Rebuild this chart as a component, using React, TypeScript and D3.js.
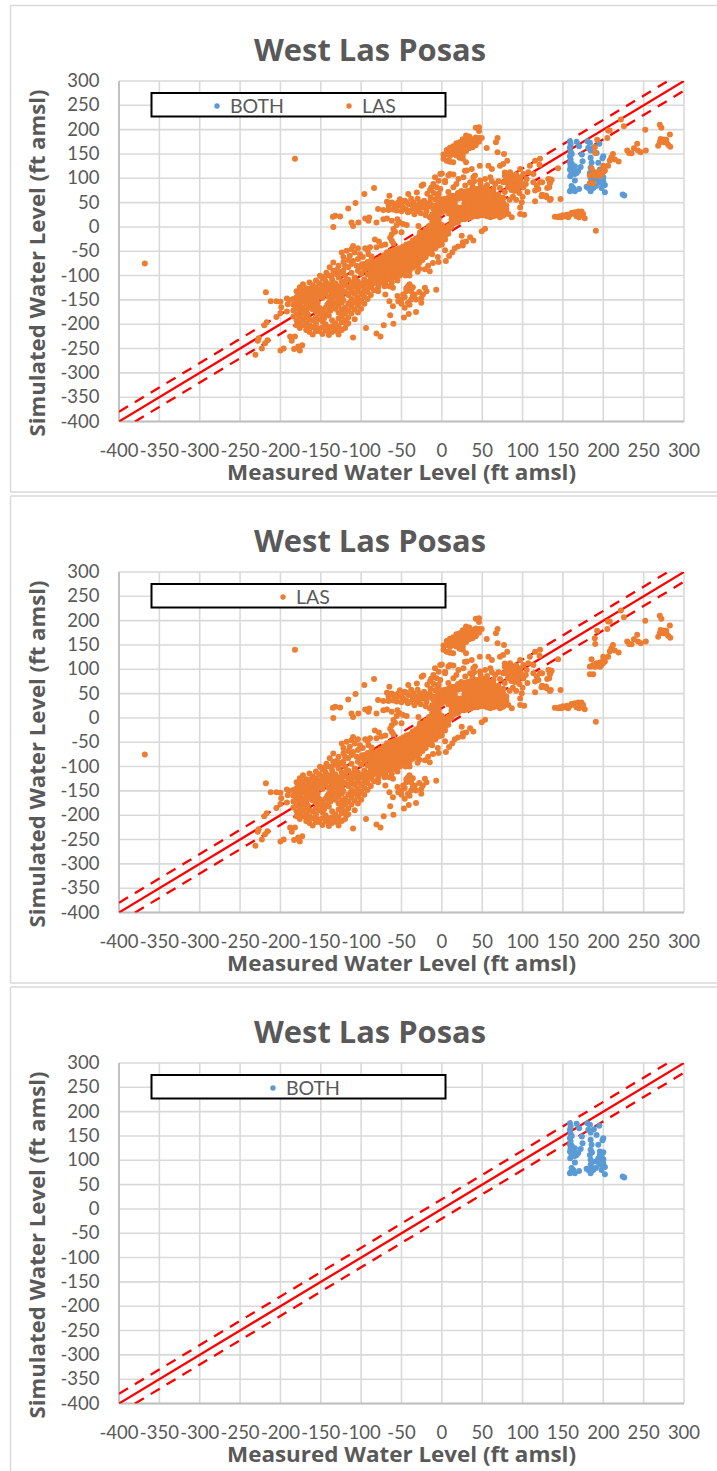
import React from "react";
import * as d3 from "d3";

type P = [number, number];
type Col = [number, number[]];

const titleText = "West Las Posas";
const xAxisTitle = "Measured Water Level (ft amsl)";
const yAxisTitle = "Simulated Water Level (ft amsl)";
const tickValues = d3.range(-400, 301, 50);

const refOffsets = [20, -20];

const lasLowerTail: P[] = [[-218,-134.5],[-212,-153],[-205,-153],[-200,-154],[-192,-147],[-189,-150],[-191,-159],[-199,-165],[-192,-174],[-200,-177],[-205,-185],[-217,-196],[-220,-202],[-227,-229],[-228,-234],[-216,-233],[-219,-239],[-223,-250],[-231,-263],[-200,-254],[-196,-250],[-188,-225],[-182,-225],[-186,-234],[-183,-251],[-176,-254],[-173,-243],[-178,-246],[-368,-75],[-182,140],[-110,-227.5],[-94,-207.6]];

const lasBlobColumns: Col[] = [
  [-184,[-148,-160,-172,-184]],
  [-180,[-132,-144,-156,-168,-180,-192,-202]],
  [-176,[-124,-136,-148,-160,-172,-184,-196,-208]],
  [-172,[-118,-130,-142,-154,-166,-178,-190,-202]],
  [-168,[-126,-138,-150,-162,-174,-186,-198,-212]],
  [-164,[-114,-130,-142,-154,-166,-190,-202,-216]],
  [-160,[-120,-134,-146,-158,-170,-192,-206,-221]],
  [-156,[-110,-124,-138,-150,-162,-174,-186,-198,-214]],
  [-152,[-116,-128,-142,-166,-178,-190,-214]],
  [-148,[-106,-120,-134,-146,-170,-182,-194,-206,-220]],
  [-144,[-112,-126,-138,-166,-178,-200,-212]],
  [-140,[-100,-118,-130,-144,-156,-168,-182,-206,-222]],
  [-136,[-108,-124,-136,-150,-162,-192,-204,-216]],
  [-132,[-96,-116,-130,-142,-156,-168,-198,-210]],
  [-128,[-104,-122,-136,-148,-162,-176,-188,-204,-221]],
  [-124,[-92,-112,-128,-142,-156,-170,-184,-196,-212]],
  [-120,[-100,-118,-134,-166,-178,-192,-208]],
  [-116,[-108,-124,-140,-158,-172,-186,-198]],
  [-112,[-94,-114,-130,-148,-164,-178]],
  [-108,[-104,-122,-138,-156,-170,-190]],
  [-104,[-90,-112,-130,-146,-162,-176]],
  [-100,[-82,-96,-120,-138,-152,-168]],
  [-96,[-76,-88,-108,-128,-144,-158]],
  [-92,[-72,-84,-98,-116,-134,-148]],
  [-88,[-70,-80,-92,-104,-124,-140]],
];

const lasBlobInfill: P[] = [[-178,-166],[-178,-142],[-174,-172],[-174,-150],[-170,-144],[-170,-168],[-166,-156],[-166,-180],[-162,-150],[-162,-126],[-158,-140],[-158,-164],[-154,-156],[-154,-132],[-150,-140],[-150,-176],[-146,-128],[-146,-188],[-142,-160],[-142,-120],[-138,-172],[-134,-144],[-134,-118],[-130,-156],[-130,-126],[-126,-134],[-126,-176],[-122,-150],[-122,-120],[-118,-108],[-118,-172],[-114,-136],[-114,-156],[-110,-122],[-110,-150],[-106,-134],[-106,-112],[-102,-122],[-102,-155],[-98,-136],[-98,-116],[-94,-124],[-90,-112],[-86,-118],[-166,-206],[-154,-208],[-142,-214],[-130,-214],[-118,-200]];

const lasBandColumns: Col[] = [
  [-84,[-72,-80,-88,-96,-104,-112,-130]],
  [-80,[-68,-76,-84,-92,-100,-108,-116]],
  [-76,[-64,-72,-80,-88,-96,-104,-112]],
  [-72,[-58,-66,-74,-82,-90,-98,-106,-114]],
  [-68,[-52,-60,-68,-76,-84,-92,-100,-108]],
  [-64,[-50,-58,-66,-74,-82,-90,-98,-106]],
  [-60,[-48,-56,-64,-72,-80,-88,-96,-104]],
  [-56,[-46,-54,-62,-70,-78,-86,-94,-102]],
  [-52,[-44,-52,-60,-68,-76,-84,-92,-100]],
  [-48,[-40,-48,-56,-64,-72,-80,-88,-96]],
  [-44,[-36,-44,-52,-60,-68,-76,-84,-92]],
  [-40,[-34,-42,-50,-58,-66,-74,-82,-90]],
  [-36,[-28,-36,-44,-52,-60,-68,-76,-84]],
  [-32,[-24,-32,-40,-48,-56,-64,-72,-80]],
  [-28,[-18,-26,-34,-42,-50,-58,-66,-74]],
  [-24,[-12,-20,-28,-36,-44,-52,-60,-68]],
  [-20,[-6,-14,-22,-30,-38,-46,-54,-62]],
  [-16,[2,-6,-14,-22,-30,-38,-46,-54]],
  [-12,[26,18,10,2,-6,-14,-22,-30,-38,-46,-56]],
  [-8,[44,36,28,20,12,4,-4,-12,-20,-28,-36,-44]],
  [-4,[50,42,34,26,18,10,2,-6,-14,-22,-30,-38]],
  [0,[54,46,38,30,4,-4,-12,-20,-28,-36]],
  [4,[58,50,42,34,-2,-10,-18,-26]],
  [8,[60,52,44,36,28,2,-6,-14]],
  [12,[64,56,48,40,32,24,16,8,0]],
  [16,[64,56,48,40,32,24,16,8]],
  [20,[66,58,40,32,24,16,10]],
  [24,[68,60,40,32,24,16]],
  [28,[72,64,56,48,40,32,24,16]],
  [32,[74,66,58,50,42,34,26,18]],
  [36,[76,68,60,52,44,36,28,20]],
  [40,[78,70,62,54,46,38,30,22]],
  [44,[78,70,62,54,46,38,30,22]],
  [48,[80,72,64,56,48,40,32,24]],
  [52,[80,72,64,56,48,40,32,24]],
  [56,[78,70,62,54,46,38,30,22]],
  [60,[74,66,58,50,42,34,26,20]],
  [64,[70,62,54,46,38,30,22]],
  [68,[62,54,46,38,30,24]],
  [72,[58,50,42,34,26]],
  [76,[50,42,34,26]],
  [80,[44,36,28]],
];

const lasLeftFringe: P[] = [[-84,80],[-96,67.5],[-107,49],[-116,38],[-132,23],[-135,21],[-126,21.6],[-134.5,0],[-112,9],[-110,2],[-103.5,9],[-95,17.5],[-90,19.5],[-91,12.7],[-81,9],[-72.5,16],[-68,17.5],[-79,36.7],[-72.5,35],[-65,64],[-41.6,67.5],[-31,71],[-25,84.7],[-13,81],[-2,109],[10,109],[28.6,115.6],[-8.5,102],[4,95],[-62,50],[-54,50],[-46,54],[-35,50],[-27,50],[-66,43.5],[-58,40],[-48,40],[-39.5,33],[-31,33],[-23,40],[-15,50],[-8.5,57],[-0.3,57],[-19,33],[-10.5,36.7],[-60,47],[-52,43.5],[-41.6,47],[-62,12.7],[-52,9],[-43.6,3.8],[-60,-4.5],[-62,-15],[-62,-28.5],[-50,-11],[-27,-11],[-29,2],[-83,-26],[-95,-43.6],[-89,-42],[-110,-39],[-118,-49],[-124,-52.5],[-108,-52.5],[-114,-59],[-101.4,-56],[-91,-56],[-110,-70],[-134.5,-73],[-139,-83],[-128,-80],[-120,-80],[-143,-94],[-134.5,-90],[-126,-94],[-116,-83],[-105.6,-80],[-151,-100.5],[-136.5,-100.5],[-81,-42],[-87,-61],[-99,-76.5],[-57,46],[-50,48],[-44,51],[-38,46],[-32,44],[-26,45],[-20,46],[-12,44],[-5,62],[-64,48],[-44,36],[-36,38],[-28,38],[-16,42],[-122,-62],[-116,-68],[-104,-66],[-98,-62],[-112,-46],[-104,-44],[-122,-72],[-130,-88],[-122,-90],[-112,-76],[-145,-102],[-55,16],[-48,6],[-56,4],[-58,-10],[-64,-22],[-60,-34],[-75,-38],[-70,-36],[-78,-30],[-92,-48],[-56,34],[-50,32],[-42,30],[-34,26],[-26,28],[-20,24],[-15,20],[-60,36],[-66,35],[-68,52],[-30,58],[-22,54],[-14,60],[-38,58],[-52,57],[-10,70],[-18,68]];

const lasUnderBand: P[] = [[-40,-118],[-44,-132],[-50,-149],[-38,-132],[-33.7,-139],[-54,-153],[-60.6,-163],[-65,-153],[-46,-166],[-47,-186],[-41,-179],[-32,-175],[-25.5,-156],[-21,-125],[-19,-132],[-25.5,-146],[-23.5,-139],[-7,-129],[-64,-181.5],[-60,-199],[-72,-202],[-81,-219],[-76,-225],[-38,-149],[-42,-122],[-48,-139],[-32,-149],[-40,-160],[-70,-139],[-71,-122],[-79,-125],[-79,-132],[-65,-122],[-60.6,-125],[-21,-87],[-15,-91],[-17,-80],[-11,-74],[5,-70],[13,-52],[-5,-62],[4,-48],[20,-40],[-55,-110],[-62,-114],[-45,-100],[-28,-86],[-44,-126],[-36,-124],[-46,-144],[-42,-156],[-36,-142],[-28,-134],[-50,-158],[-55,-142],[-30,-92],[-40,-100],[9,-60],[16,-44],[26,-38],[30,-30],[-4,-72],[-70,-116],[-78,-118]];

const lasUpperClusterColumns: Col[] = [
  [2,[149,140]],
  [6,[158,150,136]],
  [10,[163,154,146,134]],
  [14,[166,158,150,133]],
  [18,[172,164,156,147]],
  [22,[174,166,158,150,142]],
  [26,[180,172,164,156,148,140]],
  [30,[188,180,172,164,156,133]],
  [34,[186,178,170,162]],
  [38,[180,172,164]],
  [42,[204,184,176,168]],
  [46,[205,197,183,175]],
  [49.4,[183]],
];

const lasRightOfBand: P[] = [[69,183],[67,174],[55.6,162.5],[69,153.6],[77,150],[81,136],[72,126],[76,129.6],[47,126],[57.7,126],[62,119],[41,105.6],[31,116],[37,119],[97,119],[109,126],[115.5,136],[121.7,140],[107,112.5],[113.4,109],[84.5,112.5],[88.6,105.6],[78,105.6],[97,102],[101,109],[93,92],[80.4,92],[86.6,85],[97,85],[105,98.7],[101,81.6],[113.4,92],[121.7,92],[132,98.7],[136,96.7],[117.6,85],[134,90],[115.5,74.7],[119.6,78],[126,64.4],[130,61],[124,66],[115.5,53],[135,57.6],[147,57.6],[99,50.7],[97,40],[97,26.7],[102,25],[82.4,26.7],[86.6,20],[72,20],[76,23],[53.5,-4],[49.4,-9],[35,-21],[39,-28],[24.6,-18],[26,-31.6],[-23,87],[-14.6,76],[-10.5,88],[-4,95],[0,110],[8,105.6],[14.3,107.6],[-6.4,81.6],[4,92],[14.3,81.6],[26.7,102],[20.5,98.7],[39,102],[60,102],[53.5,98.7],[47.3,95.3],[35,92],[29,85],[84,100],[90,96],[82,82],[90,74],[96,70],[106,72],[88,62],[78,72],[72,80],[66,88],[56,86],[48,88],[24,74],[8,72],[-4,68],[78,112],[84,106],[92,108],[88,96],[94,100],[80,98],[76,92],[82,90],[92,84],[98,92],[104,88],[86,76],[94,78],[70,94],[62,94],[100,62],[92,56],[84,56],[76,60],[70,66],[64,78],[40,94],[18,88],[-2,78],[20,70],[38,84]];

const lasFarRight: P[] = [[221.8,221],[225.5,207],[206,198],[208,198],[192.4,179],[205,183],[189.5,164],[190,152],[212,150],[210,143],[208,136.5],[214.3,138.5],[219,134.4],[206,126],[199.9,126],[185.4,120.7],[199.9,119],[195.7,114],[191.6,112.5],[187.5,109],[183.4,105.6],[197.8,109],[193.7,109],[183.4,89.8],[187.5,89.8],[144,120.7],[135,97.4],[133.8,92],[124.3,92],[133,81.6],[130.5,80],[123.5,63],[129,64.4],[133.8,55.5],[121,127.6],[229.6,157],[232,152],[235,151.6],[238,162],[242,170.8],[243,157],[246.5,153.6],[252.7,157],[252,199.6],[270,210],[272,203.7],[282.5,190],[271,181],[275,179.7],[268,167],[278,174],[280.4,168.7],[283,165],[275,174],[278,179],[270,174],[140,21],[144,20],[148,20],[152.4,22],[156.5,20],[160.6,28.8],[164.8,30],[169,31.5],[173,31.5],[175,26.7],[166.8,22],[170,20],[177,18],[190.8,-7.6],[146,22],[150,24],[155,25],[158,24],[163,27],[168,28],[172,26],[192,108],[196,105],[186,106],[190,105],[202,116],[200,113]];

const bothColumnA: P[] = [[158.7,176],[159.5,169.5],[158.7,163],[159.5,154.5],[158.7,145.5],[159.5,138.7],[158.7,132],[159.5,125],[158.7,118],[160.7,111],[164.8,109],[169,115],[172,123],[174.3,135],[173.5,149],[167,175],[170,166],[164.8,125],[162.8,118],[158.7,73.5],[162.8,80],[164.8,95.5],[160.7,84],[164.8,73.5],[170,78],[159.5,75],[161,150],[161,130],[161,112],[163,110],[167,111],[159,104]];
const bothColumnB: P[] = [[180.5,176],[183.4,173],[181.4,163],[188.4,164],[184.3,157],[191.7,152],[200,145.5],[199,141],[193.8,132],[184.3,142],[185.5,132],[184.3,121.5],[183.4,111],[184.3,101],[184.3,90.6],[181.4,80],[179.3,82.4],[184.3,73.5],[187.6,80],[195.8,118],[200,116.7],[195.8,111],[193.8,104],[197.9,101],[200,94],[195.8,90.6],[202,86],[197.9,80],[202,71.4],[190.9,97.5],[190.9,84],[195,171],[186,116],[186,96],[186,84],[198,108],[194,96],[200,102]];
const bothIsolated: P[] = [[224,66.6],[226,64.6]];

const flatten = (cols: Col[]): P[] => cols.flatMap(([x, ys]) => ys.map((y) => [x, y] as P));

const lasSeries: P[] = [...lasLowerTail, ...flatten(lasBlobColumns), ...lasBlobInfill, ...flatten(lasBandColumns), ...lasLeftFringe, ...lasUnderBand, ...flatten(lasUpperClusterColumns), ...lasRightOfBand, ...lasFarRight];
const bothSeries: P[] = [...bothColumnA, ...bothColumnB, ...bothIsolated];

const BLUE = "#5B9BD5";
const ORANGE = "#ED7D31";
const GREY = "#595959";
const FONT = "Lato, 'Open Sans', sans-serif";
const HEAD = "'Open Sans', Lato, sans-serif";

const xScale = d3.scaleLinear().domain([-400, 300]).range([119, 684]);

type LegendItem = { label: string; color: string; mx: number };

function Panel({ top, frameBottom, frameTop, series, legend }: {
  top: number; frameTop: number; frameBottom: number;
  series: { data: P[]; color: string }[]; legend: LegendItem[];
}) {
  const yScale = d3.scaleLinear().domain([-400, 300]).range([top + 340.5, top]);
  const clipId = `clip-${top}`;
  const refLine = d3.line<number>().x((v) => xScale(v)).y((v) => yScale(v));
  const refOff = (o: number) => d3.line<number>().x((v) => xScale(v)).y((v) => yScale(v + o))([-400, 300]) as string;
  const plotBottom = yScale(-400);
  return (
    <g>
      <path d={`M10.5 ${frameTop}H717M10.5 ${frameTop}V${frameBottom}M10.5 ${frameBottom}H717`} fill="none" stroke="#D9D9D9" strokeWidth={1.5} />
      <defs>
        <clipPath id={clipId}><rect x={119} y={top} width={565} height={340.5} /></clipPath>
      </defs>
      <text x={370} y={top - 20} textAnchor="middle" fontFamily={HEAD} fontWeight={700} fontSize={30} fill={GREY} textLength={232} lengthAdjust="spacingAndGlyphs">{titleText}</text>
      {tickValues.map((t) => (
        <line key={`gx${t}`} x1={xScale(t)} x2={xScale(t)} y1={top} y2={plotBottom} stroke="#D9D9D9" strokeWidth={1.6} />
      ))}
      {tickValues.map((t) => (
        <line key={`gy${t}`} x1={119} x2={684} y1={yScale(t)} y2={yScale(t)} stroke="#D9D9D9" strokeWidth={1.6} />
      ))}
      <line x1={119} x2={119} y1={top} y2={plotBottom} stroke="#BFBFBF" strokeWidth={1.8} />
      <line x1={119} x2={684} y1={plotBottom} y2={plotBottom} stroke="#BFBFBF" strokeWidth={1.8} />
      {tickValues.map((t) => (
        <text key={`ly${t}`} x={99.5} y={yScale(t) + 6} textAnchor="end" fontFamily={FONT} fontSize={18.5} fill={GREY}>{t}</text>
      ))}
      {tickValues.map((t) => (
        <text key={`lx${t}`} x={xScale(t)} y={plotBottom + 35} textAnchor="middle" fontFamily={FONT} fontSize={18.5} fill={GREY}>{t}</text>
      ))}
      <g clipPath={`url(#${clipId})`}>
        <path d={refLine([-400, 300]) as string} stroke="#FF0000" strokeWidth={2.3} fill="none" />
        {refOffsets.map((o) => (
          <path key={o} d={refOff(o)} stroke="#FF0000" strokeWidth={2.3} fill="none" strokeDasharray="10.5 8" />
        ))}
      </g>
      {series.map((s) =>
        s.data.map((d, i) => (
          <circle key={`${s.color}${i}`} cx={xScale(d[0])} cy={yScale(d[1])} r={3} fill={s.color} />
        ))
      )}
      <rect x={151.5} y={top + 12} width={294} height={23.5} fill="#FFFFFF" stroke="#000000" strokeWidth={2} />
      {legend.map((l) => (
        <g key={l.label}>
          <circle cx={l.mx} cy={top + 25} r={2.7} fill={l.color} />
          <text x={l.mx + 13} y={top + 31.5} fontFamily={FONT} fontSize={19.5} fill={GREY}>{l.label}</text>
        </g>
      ))}
      <text x={401.5} y={plotBottom + 58.5} textAnchor="middle" fontFamily={HEAD} fontWeight={700} fontSize={20.5} fill={GREY} textLength={349} lengthAdjust="spacingAndGlyphs">{xAxisTitle}</text>
      <text transform={`translate(45 ${top + 182}) rotate(-90)`} textAnchor="middle" fontFamily={HEAD} fontWeight={700} fontSize={20.5} fill={GREY} textLength={347} lengthAdjust="spacingAndGlyphs">{yAxisTitle}</text>
    </g>
  );
}

export default function App() {
  return (
    <svg width={717} height={1471} style={{ position: "absolute", left: 0, top: 0, display: "block" }}>
      <rect width={717} height={1471} fill="#FFFFFF" />
      <Panel top={81} frameTop={5.5} frameBottom={492}
        series={[{ data: bothSeries, color: BLUE }, { data: lasSeries, color: ORANGE }]}
        legend={[{ label: "BOTH", color: BLUE, mx: 217 }, { label: "LAS", color: ORANGE, mx: 349 }]} />
      <Panel top={572} frameTop={496} frameBottom={983}
        series={[{ data: lasSeries, color: ORANGE }]}
        legend={[{ label: "LAS", color: ORANGE, mx: 283 }]} />
      <Panel top={1063} frameTop={987} frameBottom={1474}
        series={[{ data: bothSeries, color: BLUE }]}
        legend={[{ label: "BOTH", color: BLUE, mx: 273 }]} />
    </svg>
  );
}
